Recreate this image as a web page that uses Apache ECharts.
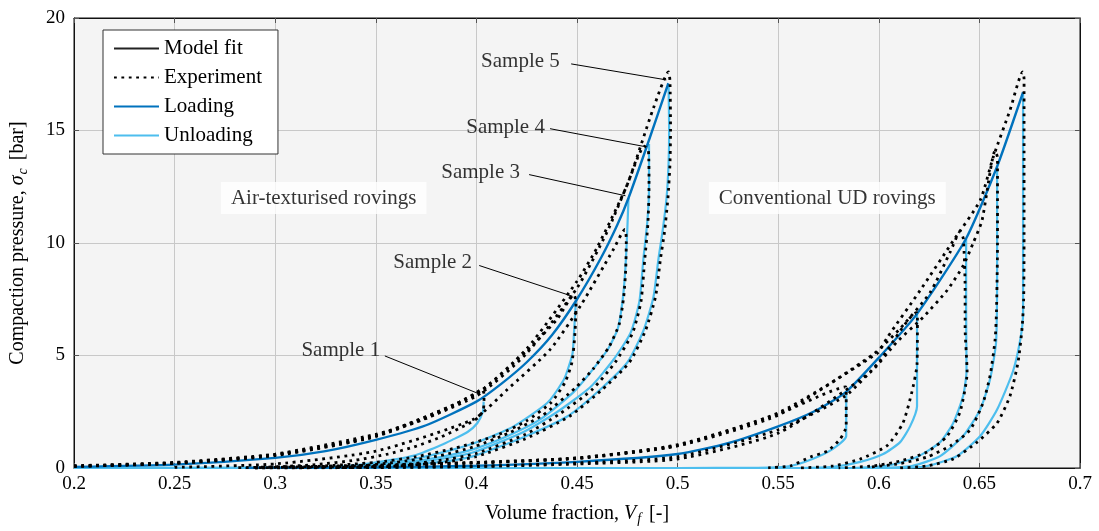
<!DOCTYPE html>
<html>
<head>
<meta charset="utf-8">
<script src="https://cdn.jsdelivr.net/npm/echarts@6/dist/echarts.min.js"></script>
<style>html,body{margin:0;padding:0;background:#fff}#chart{width:1099px;height:531px}</style>
</head>
<body>
<div id="chart"></div>
<script>
// Get dom and init chart
let compaction_chart = echarts.init(document.getElementById("chart"));
//----------------------Data----------------------
// axis ticks
let xTicks = [0.2, 0.25, 0.3, 0.35, 0.4, 0.45, 0.5, 0.55, 0.6, 0.65, 0.7];
let yTicks = [0, 5, 10, 15, 20];
// model fit (loading), air-texturised and conventional UD
let atFit = [[0.2,0.05],[0.25,0.15],[0.3,0.45],[0.325,0.75],[0.35,1.25],[0.375,1.9],[0.4,2.95],[0.4125,3.75],[0.425,4.7],[0.4375,5.9],[0.45,7.5],[0.4617,9.3],[0.47,10.8],[0.4756,12.0],[0.4855,14.5],[0.4954,17.1]];
let udFit = [[0.285,0],[0.35,0.03],[0.4,0.1],[0.45,0.27],[0.5,0.62],[0.525,1.1],[0.55,1.85],[0.5675,2.5],[0.5833,3.35],[0.6,4.9],[0.619,6.85],[0.6434,10.2],[0.6588,13.4],[0.6717,16.7]];
// model fit (unloading), one per sample
let atUnload1 = [[0.4036,2.95],[0.4032,2.5],[0.4005,2.0],[0.3956,1.6],[0.388,1.25],[0.382,1.0],[0.369,0.55],[0.352,0.27],[0.336,0.09],[0.31,0.02],[0.28,0],[0.2,0]];
let atUnload2 = [[0.4495,7.5],[0.4485,6.0],[0.4478,5.1],[0.4455,4.4],[0.4433,3.9],[0.4353,2.9],[0.4185,1.85],[0.402,1.2],[0.3857,0.75],[0.3688,0.4],[0.3524,0.18],[0.336,0.05],[0.31,0],[0.2,0]];
let atUnload3 = [[0.4756,12.0],[0.475,10.6],[0.474,8.8],[0.4726,7.4],[0.4703,6.2],[0.4655,5.3],[0.4567,4.25],[0.4483,3.37],[0.4319,2.17],[0.4155,1.42],[0.3986,0.84],[0.3822,0.49],[0.36,0.2],[0.34,0.07],[0.31,0.01],[0.2,0]];
let atUnload4 = [[0.4858,14.4],[0.4858,12.5],[0.485,11.0],[0.483,9.3],[0.481,7.4],[0.4766,6.0],[0.468,4.8],[0.4567,3.6],[0.4403,2.5],[0.4234,1.6],[0.3986,0.7],[0.3822,0.4],[0.36,0.15],[0.34,0.05],[0.31,0.01],[0.2,0]];
let atUnload5 = [[0.4955,17.0],[0.4958,15.0],[0.4955,13.5],[0.4945,12.0],[0.4925,10.5],[0.4905,9.3],[0.488,7.6],[0.483,6.1],[0.4751,4.7],[0.4617,3.5],[0.4453,2.3],[0.4234,1.37],[0.3986,0.53],[0.3822,0.27],[0.36,0.1],[0.34,0.03],[0.31,0],[0.2,0]];
let udUnload1 = [[0.5838,3.35],[0.5838,2.2],[0.5838,1.42],[0.577,0.84],[0.567,0.4],[0.556,0.09],[0.54,0.01],[0.5,0],[0.29,0]];
let udUnload2 = [[0.619,6.85],[0.619,4.5],[0.619,2.75],[0.6156,1.86],[0.6106,1.15],[0.6022,0.62],[0.5908,0.27],[0.5774,0.05],[0.56,0],[0.29,0]];
let udUnload3 = [[0.6434,10.2],[0.6434,7.0],[0.6436,4.3],[0.6419,3.2],[0.637,2.0],[0.6305,1.15],[0.619,0.49],[0.604,0.1],[0.585,0],[0.29,0]];
let udUnload4 = [[0.6588,13.4],[0.6588,9.0],[0.6583,5.6],[0.6553,3.95],[0.6504,2.6],[0.6419,1.42],[0.6305,0.53],[0.6168,0.1],[0.6,0],[0.29,0]];
let udUnload5 = [[0.6717,16.7],[0.6717,12.0],[0.6717,6.9],[0.6705,5.8],[0.6667,4.3],[0.6588,2.6],[0.6504,1.42],[0.6389,0.53],[0.624,0.09],[0.605,0],[0.29,0]];
// experiments (loading then unloading)
let atExp1 = [[0.2,0.1],[0.25,0.25],[0.3,0.62],[0.35,1.5],[0.375,2.2],[0.39,2.85],[0.4,3.35],[0.4025,3.5],[0.4038,3.3],[0.4035,2.6],[0.401,2.25],[0.3956,1.95],[0.3822,1.37],[0.3688,0.93],[0.356,0.62],[0.34,0.35],[0.32,0.15],[0.3,0.05],[0.28,0.01]];
let atExp2 = [[0.2,0.08],[0.25,0.22],[0.3,0.58],[0.35,1.42],[0.4,3.3],[0.425,5.2],[0.44,6.6],[0.4485,7.7],[0.4495,7.3],[0.449,6.0],[0.4475,4.7],[0.444,3.8],[0.437,2.9],[0.425,2.1],[0.41,1.45],[0.39,0.9],[0.37,0.5],[0.35,0.25],[0.32,0.07],[0.29,0.01]];
let atExp3 = [[0.25,0.03],[0.3,0.18],[0.35,0.75],[0.3986,2.17],[0.4155,3.5],[0.4368,5.28],[0.4517,7.2],[0.468,9.7],[0.4738,10.6],[0.4745,10.2],[0.4742,8.8],[0.4732,7.6],[0.471,6.4],[0.466,5.4],[0.458,4.4],[0.449,3.55],[0.433,2.35],[0.416,1.55],[0.399,0.95],[0.382,0.55],[0.36,0.25],[0.34,0.09],[0.31,0.01]];
let atExp4 = [[0.2,0.07],[0.25,0.2],[0.3,0.55],[0.35,1.4],[0.4,3.2],[0.425,5.1],[0.45,8.0],[0.465,10.5],[0.475,12.6],[0.4835,14.3],[0.4855,14.1],[0.4858,12.5],[0.4852,10.8],[0.4836,9.2],[0.4818,7.4],[0.4776,6.0],[0.469,4.7],[0.4577,3.5],[0.4413,2.4],[0.4244,1.5],[0.4,0.65],[0.383,0.35],[0.36,0.12],[0.33,0.02]];
let atExp5 = [[0.2,0.08],[0.25,0.22],[0.3,0.6],[0.35,1.45],[0.4,3.3],[0.425,5.3],[0.45,8.3],[0.46,9.8],[0.475,12.6],[0.488,16.0],[0.4955,17.6],[0.4962,17.2],[0.4965,15.0],[0.4962,13.5],[0.4952,12.0],[0.4935,10.5],[0.4915,9.3],[0.489,7.6],[0.484,6.1],[0.4761,4.7],[0.4627,3.5],[0.4463,2.3],[0.4244,1.3],[0.3996,0.5],[0.383,0.25],[0.36,0.08],[0.33,0.01]];
let udExp1 = [[0.29,0.02],[0.35,0.12],[0.4,0.25],[0.45,0.45],[0.5,1.0],[0.55,2.4],[0.5835,3.6],[0.5838,3.4],[0.5838,2.5],[0.5838,1.86],[0.5808,1.29],[0.5744,0.75],[0.566,0.49],[0.556,0.09],[0.545,0.01]];
let udExp2 = [[0.29,0],[0.35,0.03],[0.4,0.08],[0.45,0.22],[0.5,0.5],[0.55,1.7],[0.5833,3.2],[0.6,4.7],[0.6188,6.9],[0.6192,6.6],[0.619,4.6],[0.6165,3.4],[0.612,2.0],[0.6042,1.0],[0.5908,0.4],[0.5774,0.09],[0.56,0]];
let udExp3 = [[0.29,0.02],[0.35,0.1],[0.4,0.22],[0.45,0.42],[0.5,0.98],[0.55,2.35],[0.5972,5.05],[0.6106,6.2],[0.6255,7.8],[0.6355,9.6],[0.6404,10.5],[0.642,10.2],[0.6429,8.0],[0.6429,6.2],[0.6439,4.25],[0.6404,2.5],[0.634,1.42],[0.624,0.71],[0.6106,0.31],[0.5972,0.09],[0.58,0]];
let udExp4 = [[0.29,0],[0.35,0.02],[0.4,0.06],[0.45,0.18],[0.5,0.4],[0.55,1.55],[0.5957,4.25],[0.609,5.6],[0.622,6.7],[0.634,7.9],[0.642,9.0],[0.6469,10.0],[0.6513,11.0],[0.6578,14.1],[0.659,13.8],[0.659,10.0],[0.6585,7.0],[0.6578,5.7],[0.6553,4.1],[0.6518,2.9],[0.6454,1.7],[0.6355,0.98],[0.624,0.49],[0.6106,0.2],[0.595,0.03]];
let udExp5 = [[0.29,0.02],[0.35,0.12],[0.4,0.24],[0.45,0.44],[0.5,1.04],[0.55,2.45],[0.5992,5.1],[0.6042,5.8],[0.6206,7.9],[0.637,10.1],[0.6504,11.9],[0.6568,13.8],[0.6652,15.9],[0.6715,17.6],[0.6722,17.3],[0.6722,14.0],[0.6722,10.0],[0.672,7.5],[0.6712,6.2],[0.6692,4.7],[0.6652,3.2],[0.6588,2.0],[0.6489,1.15],[0.637,0.4],[0.624,0.09],[0.61,0]];
// annotations
let sampleNames = ["Sample 1", "Sample 2", "Sample 3", "Sample 4", "Sample 5"];
let sampleTextAt = [[0.3326,5.23],[0.3783,9.14],[0.4021,13.13],[0.4145,15.12],[0.4219,18.05]];
let sampleLineFrom = [[0.3545,4.98],[0.4014,9.0],[0.4262,13.04],[0.4366,15.08],[0.4471,17.96]];
let sampleLineTo = [[0.4018,3.28],[0.4478,7.63],[0.4741,12.1],[0.484,14.28],[0.4944,17.25]];
let groupNames = ["Air-texturised rovings", "Conventional UD rovings"];
let groupTextAt = [[0.3241,12.0],[0.5744,12.0]];
//---------------------Styles---------------------
let font_family = "'Liberation Serif', 'Times New Roman', serif";
let text_color = "#000";
let col_fit = "#0072BD";
let col_unload = "#4DBEEE";
let exp_dash = [2.8, 4.6];
//---------------------Series---------------------
let series_list = [];
function addLine(name, data, color, width, type, z) {
    series_list.push({
        type: 'line',
        name: name,
        data: data,
        showSymbol: false,
        symbol: 'none',
        smooth: 0.2,
        silent: true,
        z: z,
        lineStyle: {color: color, width: width, type: type, cap: 'butt'},
        itemStyle: {color: color},
    });
}
[atUnload1, atUnload2, atUnload3, atUnload4, atUnload5,
 udUnload1, udUnload2, udUnload3, udUnload4, udUnload5].forEach(function (d) {
    addLine('', d, col_unload, 2.2, 'solid', 2);
});
addLine('', atFit, col_fit, 2.4, 'solid', 3);
addLine('', udFit, col_fit, 2.4, 'solid', 3);
[atExp1, atExp2, atExp3, atExp4, atExp5,
 udExp1, udExp2, udExp3, udExp4, udExp5].forEach(function (d) {
    addLine('', d, '#000', 2.8, exp_dash, 4);
});
// annotation leader lines
for (let i = 0; i < sampleNames.length; i++) {
    series_list.push({
        type: 'line',
        data: [sampleLineFrom[i], sampleLineTo[i]],
        symbol: 'none',
        silent: true,
        z: 5,
        lineStyle: {color: '#000', width: 1},
    });
}
// annotation texts
series_list.push({
    type: 'scatter',
    symbolSize: 0,
    silent: true,
    z: 6,
    data: sampleNames.map(function (n, i) { return {name: n, value: sampleTextAt[i]}; }),
    label: {show: true, position: 'inside', formatter: '{b}', color: text_color,
            fontFamily: font_family, fontSize: 21},
});
series_list.push({
    type: 'scatter',
    symbolSize: 0,
    silent: true,
    z: 6,
    data: groupNames.map(function (n, i) { return {name: n, value: groupTextAt[i]}; }),
    label: {show: true, position: 'inside', formatter: '{b}', color: text_color,
            fontFamily: font_family, fontSize: 21, backgroundColor: '#fff',
            padding: [6, 10, 5, 10]},
});
// legend entries
addLine('Model fit', [], '#222', 2.6, 'solid', 1);
addLine('Experiment', [], '#000', 2.8, exp_dash, 1);
addLine('Loading', [], col_fit, 2.8, 'solid', 1);
addLine('Unloading', [], col_unload, 2.8, 'solid', 1);
//----------------------Axis----------------------
let axis_label_style = {color: text_color, fontFamily: font_family, fontSize: 19};
let split_style = {show: true, lineStyle: {color: '#c8c8c8', width: 1}};
let name_rich = {
    n: {fontFamily: font_family, fontSize: 20, color: text_color},
    i: {fontFamily: font_family, fontSize: 20, fontStyle: 'italic', color: text_color},
    s: {fontFamily: font_family, fontSize: 14, fontStyle: 'italic', color: text_color, padding: [10, 3, 0, 1]},
};
let x_axis = [{
    type: 'value', min: xTicks[0], max: xTicks[xTicks.length - 1], interval: 0.05,
    position: 'bottom',
    axisLine: {show: true, onZero: false, lineStyle: {color: '#111'}},
    axisTick: {show: true, inside: true, length: 5, lineStyle: {color: '#555'}},
    axisLabel: Object.assign({margin: 7, formatter: function (v) { return String(+v.toFixed(2)); }}, axis_label_style),
    splitLine: split_style,
    name: '{n|Volume fraction, }{i|V}{s|f}{n| [-]}',
    nameLocation: 'middle', nameGap: 34,
    nameTextStyle: {rich: name_rich},
}, {
    type: 'value', min: xTicks[0], max: xTicks[xTicks.length - 1], interval: 0.05,
    position: 'top',
    axisLine: {show: true, onZero: false, lineStyle: {color: '#111'}},
    axisTick: {show: true, inside: true, length: 5, lineStyle: {color: '#555'}},
    axisLabel: {show: false}, splitLine: {show: false},
}];
let y_axis = [{
    type: 'value', min: yTicks[0], max: yTicks[yTicks.length - 1], interval: 5,
    position: 'left',
    axisLine: {show: true, onZero: false, lineStyle: {color: '#111'}},
    axisTick: {show: true, inside: true, length: 5, lineStyle: {color: '#555'}},
    axisLabel: Object.assign({margin: 9}, axis_label_style),
    splitLine: split_style,
    name: '{n|Compaction pressure, }{i|σ}{s|c}{n| [bar]}',
    nameLocation: 'middle', nameGap: 44,
    nameTextStyle: {rich: name_rich},
}, {
    type: 'value', min: yTicks[0], max: yTicks[yTicks.length - 1], interval: 5,
    position: 'right',
    axisLine: {show: true, onZero: false, lineStyle: {color: '#111'}},
    axisTick: {show: true, inside: true, length: 5, lineStyle: {color: '#555'}},
    axisLabel: {show: false}, splitLine: {show: false},
}];
//------------------Generate Graph------------------
let compaction_option = {
    animation: false,
    backgroundColor: '#fff',
    grid: {left: 73, right: 19, top: 18, bottom: 62, show: true,
           backgroundColor: '#f4f4f4', borderColor: '#111', borderWidth: 1},
    xAxis: x_axis,
    yAxis: y_axis,
    legend: {
        data: ['Model fit', 'Experiment', 'Loading', 'Unloading'],
        orient: 'vertical', left: 103, top: 30,
        backgroundColor: '#fff', borderColor: '#333', borderWidth: 1,
        padding: [8, 16, 8, 10], itemGap: 8, itemWidth: 45, itemHeight: 14,
        itemStyle: {opacity: 0},
        textStyle: {fontFamily: font_family, fontSize: 21, color: text_color},
        selectedMode: false,
    },
    series: series_list,
};
compaction_chart.setOption(compaction_option, true);
</script>
</body>
</html>
